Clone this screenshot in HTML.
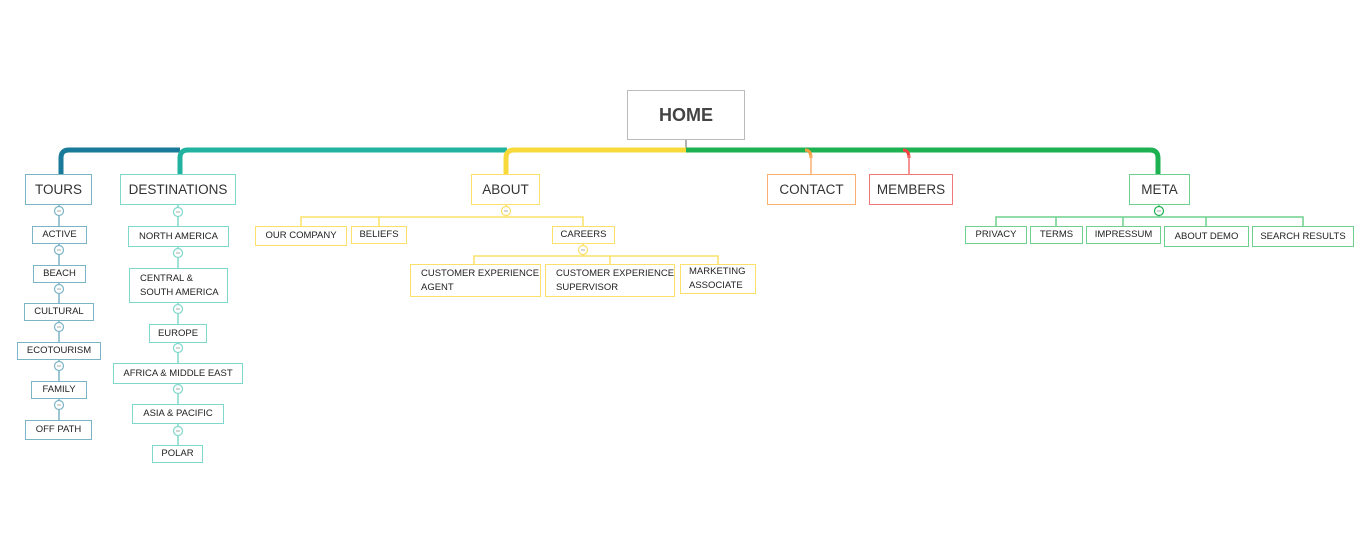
<!DOCTYPE html>
<html><head><meta charset="utf-8"><style>
body{margin:0;width:1371px;height:539px;background:#fff;position:relative;overflow:hidden;font-family:"Liberation Sans",sans-serif}
.n{position:absolute;box-sizing:border-box;border:1.5px solid;display:flex;align-items:center;justify-content:center;text-align:center;color:#222;font-size:9.5px;background:#fff;line-height:14px;white-space:nowrap}
.m{font-size:13.5px;color:#333}
.l{justify-content:flex-start;text-align:left;padding-left:10px}
.b{border-color:#7bb4c6}.t{border-color:#7fd8cc}.y{border-color:#fbe06a}.g{border-color:#6fd08e}
svg{position:absolute;left:0;top:0}
</style></head><body>
<svg width="1371" height="539">
<g fill="none">
<path d="M686,140 V150" stroke="#999" stroke-width="1.5"/>
<path d="M61,174 V158 Q61,150 69,150 H180" stroke="#1a7a9a" stroke-width="5"/>
<path d="M180,174 V158 Q180,150 188,150 H507" stroke="#22b3a0" stroke-width="5"/>
<path d="M506,174 V158 Q506,150 514,150 H686" stroke="#f7d93c" stroke-width="5"/>
<path d="M686,150 H1150 Q1158,150 1158,158 V174" stroke="#1db152" stroke-width="5"/>
<path d="M805,150 Q811,150 811,158" stroke="#f5a040" stroke-width="3"/>
<path d="M903,150 Q909,150 909,158" stroke="#f04040" stroke-width="3"/>
<path d="M811,155 V174" stroke="#fbb070" stroke-width="1.5"/>
<path d="M909,155 V174" stroke="#f07070" stroke-width="1.5"/>
<path d="M59,205 V420" stroke="#7bb4c6" stroke-width="1.5"/>
<path d="M178,205 V445" stroke="#7fd8cc" stroke-width="1.5"/>
<path d="M506,205 V217 M301,226 V217 H583 V226 M379,217 V226" stroke="#fbe06a" stroke-width="1.5"/>
<path d="M583,244 V256 M474,264 V256 H718 V264 M610,256 V264" stroke="#fbe06a" stroke-width="1.5"/>
<path d="M1159,205 V217 M996,226 V217 H1303 V226 M1056,217 V226 M1123,217 V226 M1206,217 V226" stroke="#6fd08e" stroke-width="1.5"/>
</g>
<g fill="#fff" stroke-width="1.2">
<g stroke="#7bb4c6"><circle cx="59" cy="211" r="4.5"/><circle cx="59" cy="250" r="4.5"/><circle cx="59" cy="289" r="4.5"/><circle cx="59" cy="327" r="4.5"/><circle cx="59" cy="366" r="4.5"/><circle cx="59" cy="405" r="4.5"/></g>
<g stroke="#7fd8cc"><circle cx="178" cy="212" r="4.5"/><circle cx="178" cy="253" r="4.5"/><circle cx="178" cy="309" r="4.5"/><circle cx="178" cy="348" r="4.5"/><circle cx="178" cy="389" r="4.5"/><circle cx="178" cy="431" r="4.5"/></g>
<g stroke="#fbe06a"><circle cx="506" cy="211" r="4.5"/><circle cx="583" cy="250" r="4.5"/></g>
<g stroke="#1db152"><circle cx="1159" cy="211" r="4.5"/></g>
</g>
<g stroke="#aaa" stroke-width="1">
<path d="M57,211H61M57,250H61M57,289H61M57,327H61M57,366H61M57,405H61M176,212H180M176,253H180M176,309H180M176,348H180M176,389H180M176,431H180M504,211H508M581,250H585M1157,211H1161"/>
</g>
</svg>
<div class="n" style="left:627px;top:90px;width:118px;height:50px;border-color:#bbb;font-size:18px;font-weight:bold;color:#444">HOME</div>
<div class="n m b" style="left:25px;top:174px;width:67px;height:31px">TOURS</div>
<div class="n m t" style="left:120px;top:174px;width:116px;height:31px">DESTINATIONS</div>
<div class="n m y" style="left:471px;top:174px;width:69px;height:31px">ABOUT</div>
<div class="n m" style="left:767px;top:174px;width:89px;height:31px;border-color:#fbb070">CONTACT</div>
<div class="n m" style="left:869px;top:174px;width:84px;height:31px;border-color:#f07878">MEMBERS</div>
<div class="n m g" style="left:1129px;top:174px;width:61px;height:31px">META</div>

<div class="n b" style="left:32px;top:226px;width:55px;height:18px">ACTIVE</div>
<div class="n b" style="left:33px;top:265px;width:53px;height:18px">BEACH</div>
<div class="n b" style="left:24px;top:303px;width:70px;height:18px">CULTURAL</div>
<div class="n b" style="left:17px;top:342px;width:84px;height:18px">ECOTOURISM</div>
<div class="n b" style="left:31px;top:381px;width:56px;height:18px">FAMILY</div>
<div class="n b" style="left:25px;top:420px;width:67px;height:20px">OFF PATH</div>

<div class="n t" style="left:128px;top:226px;width:101px;height:21px">NORTH AMERICA</div>
<div class="n t l" style="left:129px;top:268px;width:99px;height:35px">CENTRAL &amp;<br>SOUTH AMERICA</div>
<div class="n t" style="left:149px;top:324px;width:58px;height:19px">EUROPE</div>
<div class="n t" style="left:113px;top:363px;width:130px;height:21px">AFRICA &amp; MIDDLE EAST</div>
<div class="n t" style="left:132px;top:404px;width:92px;height:20px">ASIA &amp; PACIFIC</div>
<div class="n t" style="left:152px;top:445px;width:51px;height:18px">POLAR</div>

<div class="n y" style="left:255px;top:226px;width:92px;height:20px">OUR COMPANY</div>
<div class="n y" style="left:351px;top:226px;width:56px;height:18px">BELIEFS</div>
<div class="n y" style="left:552px;top:226px;width:63px;height:18px">CAREERS</div>
<div class="n y l" style="left:410px;top:264px;width:131px;height:33px">CUSTOMER EXPERIENCE<br>AGENT</div>
<div class="n y l" style="left:545px;top:264px;width:130px;height:33px">CUSTOMER EXPERIENCE<br>SUPERVISOR</div>
<div class="n y l" style="left:680px;top:264px;width:76px;height:30px;padding-left:8px">MARKETING<br>ASSOCIATE</div>

<div class="n g" style="left:965px;top:226px;width:62px;height:18px">PRIVACY</div>
<div class="n g" style="left:1030px;top:226px;width:53px;height:18px">TERMS</div>
<div class="n g" style="left:1086px;top:226px;width:75px;height:18px">IMPRESSUM</div>
<div class="n g" style="left:1164px;top:226px;width:85px;height:21px">ABOUT DEMO</div>
<div class="n g" style="left:1252px;top:226px;width:102px;height:21px">SEARCH RESULTS</div>
</body></html>
